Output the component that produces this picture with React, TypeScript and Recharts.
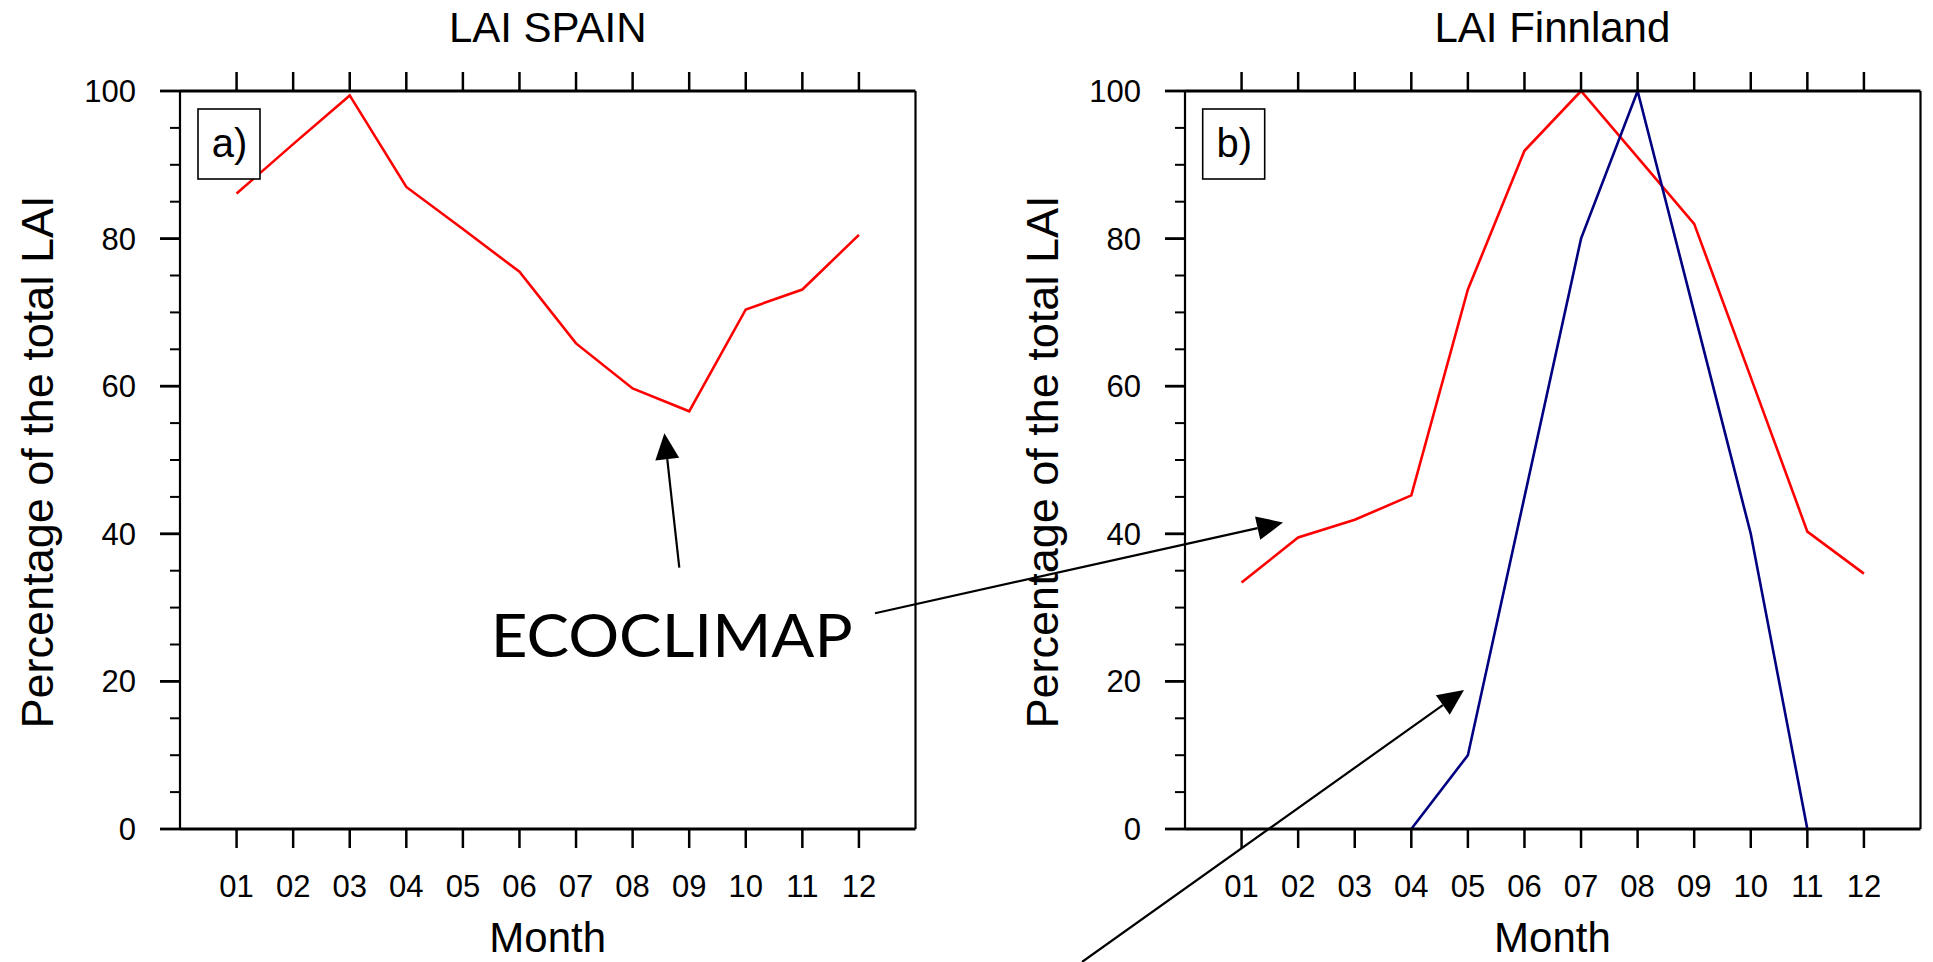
import React from 'react';
import { LineChart, Line, XAxis, YAxis } from 'recharts';

// ---------- data ----------
const MONTHS = ['01', '02', '03', '04', '05', '06', '07', '08', '09', '10', '11', '12'];
const MONTH_NUM = [1, 2, 3, 4, 5, 6, 7, 8, 9, 10, 11, 12];
const SPAIN_ECOCLIMAP = [86.1, 92.8, 99.4, 87.0, 81.3, 75.5, 65.8, 59.7, 56.6, 70.4, 73.1, 80.5];
const FINLAND_ECOCLIMAP = [33.4, 39.5, 41.9, 45.2, 73.1, 91.9, 100, 91.0, 82.0, 61.2, 40.3, 34.6];
const FINLAND_OTHER: (number | null)[] = [null, null, null, 0, 10, 45, 80, 100, 70, 40, 0, null];
const Y_MAJOR = [0, 20, 40, 60, 80, 100];
const Y_TICKS = [0, 5, 10, 15, 20, 25, 30, 35, 40, 45, 50, 55, 60, 65, 70, 75, 80, 85, 90, 95, 100];

const spainData = MONTH_NUM.map((m, i) => ({ m, v: SPAIN_ECOCLIMAP[i] }));
const finData = MONTH_NUM.map((m, i) => ({ m, v: FINLAND_ECOCLIMAP[i], w: FINLAND_OTHER[i] }));

const FONT = "'Liberation Sans', Arial, Helvetica, sans-serif";
const TICK_W = 2.5;

const BottomTick = (props: any) => {
  const { x, y, payload } = props;
  return (
    <g>
      <line x1={x} y1={y} x2={x} y2={y + 19} stroke="#000" strokeWidth={TICK_W} />
      <text x={x} y={y + 68} textAnchor="middle" fontSize={31} fontFamily={FONT} fill="#000">
        {MONTHS[payload.value - 1]}
      </text>
    </g>
  );
};

const TopTick = (props: any) => {
  const { x, y } = props;
  return <line x1={x} y1={y} x2={x} y2={y - 19} stroke="#000" strokeWidth={TICK_W} />;
};

const LeftTick = (props: any) => {
  const { x, y, payload } = props;
  const major = Y_MAJOR.includes(payload.value);
  const len = major ? 20 : 10;
  return (
    <g>
      <line x1={x} y1={y} x2={x - len} y2={y} stroke="#000" strokeWidth={major ? 2.8 : 2} />
      {major && (
        <text x={x - 44} y={y + 11} textAnchor="end" fontSize={31} fontFamily={FONT} fill="#000">
          {payload.value}
        </text>
      )}
    </g>
  );
};

const RightTick = (props: any) => {
  const { x, y, payload } = props;
  const major = Y_MAJOR.includes(payload.value);
  const len = major ? 20 : 10;
  return <line x1={x} y1={y} x2={x + len} y2={y} stroke="#000" strokeWidth={major ? 2.8 : 2} />;
};

const Panel = ({ data, both }: { data: any[]; both: boolean }) => (
  <LineChart width={960} height={962} data={data} margin={{ top: 61, right: 14.5, bottom: 53, left: 100 }}>
    <XAxis
      xAxisId="b"
      dataKey="m"
      type="number"
      orientation="bottom"
      domain={[0, 13]}
      ticks={MONTH_NUM}
      interval={0}
      height={80}
      tickSize={0}
      tickMargin={0}
      tickLine={false}
      axisLine={{ stroke: '#000', strokeWidth: 3 }}
      tick={<BottomTick />}
    />
    <XAxis
      xAxisId="t"
      dataKey="m"
      type="number"
      orientation="top"
      domain={[0, 13]}
      ticks={MONTH_NUM}
      interval={0}
      height={30}
      tickSize={0}
      tickMargin={0}
      tickLine={false}
      axisLine={{ stroke: '#000', strokeWidth: 3 }}
      tick={<TopTick />}
    />
    <YAxis
      yAxisId="l"
      type="number"
      orientation="left"
      domain={[0, 100]}
      ticks={Y_TICKS}
      interval={0}
      width={80}
      tickSize={0}
      tickMargin={0}
      tickLine={false}
      axisLine={{ stroke: '#000', strokeWidth: 2.2 }}
      tick={<LeftTick />}
    />
    <YAxis
      yAxisId="r"
      type="number"
      orientation="right"
      domain={[0, 100]}
      ticks={Y_TICKS}
      interval={0}
      width={30}
      tickSize={0}
      tickMargin={0}
      tickLine={false}
      axisLine={{ stroke: '#000', strokeWidth: 2.2 }}
      tick={<RightTick />}
    />
    <Line
      xAxisId="b"
      yAxisId="l"
      type="linear"
      dataKey="v"
      stroke="#ff0000"
      strokeWidth={2.6}
      dot={false}
      isAnimationActive={false}
    />
    {both && (
      <Line
        xAxisId="b"
        yAxisId="l"
        type="linear"
        dataKey="w"
        stroke="#000080"
        strokeWidth={2.6}
        dot={false}
        isAnimationActive={false}
      />
    )}
  </LineChart>
);

const Arrow = ({ x1, y1, x2, y2 }: { x1: number; y1: number; x2: number; y2: number }) => {
  const dx = x2 - x1;
  const dy = y2 - y1;
  const L = Math.sqrt(dx * dx + dy * dy);
  const ux = dx / L;
  const uy = dy / L;
  const hl = 26;
  const hw = 12;
  const bx = x2 - ux * hl;
  const by = y2 - uy * hl;
  const pts = `${x2},${y2} ${bx - uy * hw},${by + ux * hw} ${bx + uy * hw},${by - ux * hw}`;
  return (
    <g>
      <line x1={x1} y1={y1} x2={bx} y2={by} stroke="#000" strokeWidth={2.2} />
      <polygon points={pts} fill="#000" />
    </g>
  );
};

const RIGHT_OFFSET = 1004.7;

export default function App() {
  return (
    <div
      style={{
        position: 'absolute',
        left: 0,
        top: 0,
        width: 1933,
        height: 962,
        overflow: 'hidden',
        background: '#fff',
      }}
    >
      <div style={{ position: 'absolute', left: 0, top: 0 }}>
        <Panel data={spainData} both={false} />
      </div>
      <div style={{ position: 'absolute', left: RIGHT_OFFSET, top: 0 }}>
        <Panel data={finData} both={true} />
      </div>
      <svg
        width={1933}
        height={962}
        style={{ position: 'absolute', left: 0, top: 0, pointerEvents: 'none' }}
      >
        <g fontFamily={FONT} fill="#000">
          <text x={547.7} y={41.7} fontSize={42} textAnchor="middle">LAI SPAIN</text>
          <text x={547.7 + RIGHT_OFFSET} y={41.7} fontSize={42} textAnchor="middle">LAI Finnland</text>
          <text x={547.7} y={952} fontSize={42} textAnchor="middle">Month</text>
          <text x={547.7 + RIGHT_OFFSET} y={952} fontSize={42} textAnchor="middle">Month</text>
          <text x={53} y={462} fontSize={45} textAnchor="middle" transform="rotate(-90 53 462)">
            Percentage of the total LAI
          </text>
          <text
            x={53 + RIGHT_OFFSET}
            y={462}
            fontSize={45}
            textAnchor="middle"
            transform={`rotate(-90 ${53 + RIGHT_OFFSET} 462)`}
          >
            Percentage of the total LAI
          </text>
        </g>
        <rect x={198} y={109} width={62} height={70} fill="#fff" stroke="#000" strokeWidth={1.6} />
        <text x={229.5} y={157} fontSize={40} textAnchor="middle" fontFamily={FONT}>a)</text>
        <rect x={198 + RIGHT_OFFSET} y={109} width={62} height={70} fill="#fff" stroke="#000" strokeWidth={1.6} />
        <text x={229.5 + RIGHT_OFFSET} y={157} fontSize={40} textAnchor="middle" fontFamily={FONT}>b)</text>
        <text
          x={490.7}
          y={656.7}
          fontSize={60}
          fontFamily="Lato, 'Open Sans', sans-serif"
          textLength={362}
          lengthAdjust="spacingAndGlyphs"
        >
          ECOCLIMAP
        </text>
        <Arrow x1={679.3} y1={567.7} x2={664.4} y2={433.3} />
        <Arrow x1={875} y1={613.3} x2={1283} y2={522.5} />
        <Arrow x1={1082} y1={962} x2={1464} y2={690} />
      </svg>
    </div>
  );
}
